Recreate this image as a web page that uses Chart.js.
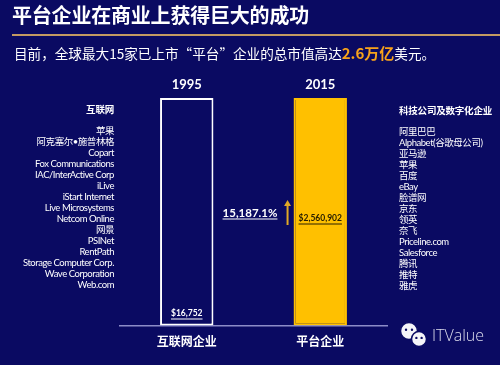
<!DOCTYPE html>
<html>
<head>
<meta charset="utf-8">
<script src="https://cdn.jsdelivr.net/npm/chart.js@4"></script>
<style>
  html, body { margin: 0; padding: 0; }
  body { width: 500px; height: 365px; background: #0a0a62; position: relative; overflow: hidden;
         font-family: "Lato", "Noto Sans CJK SC", sans-serif; color: #fff; }
  #chart { position: absolute; left: 0; top: 0; }
  .title { position: absolute; left: 12px; top: 3px; font: bold 20px/24px "Noto Sans CJK SC", sans-serif; letter-spacing: -0.2px; }
  .rule { position: absolute; left: 12px; top: 34px; width: 488px; height: 2px; background: #c39a62; }
  .sub { position: absolute; left: 14px; top: 44px; font: 13.6px/18px "Noto Sans CJK SC", sans-serif; white-space: nowrap; }
  .sub b { color: #f7a21b; font-size: 15px; }
  .list { position: absolute; font-size: 9.5px; line-height: 11px; white-space: nowrap; letter-spacing: -0.45px; }
  .list .head { font-weight: bold; margin-bottom: 10px; letter-spacing: -0.2px; }
  #left { right: 386px; top: 104px; text-align: right; }
  #right { left: 399px; top: 105px; text-align: left; }
  .brand { position: absolute; left: 432px; top: 325px; font: 300 16px/20px "Open Sans", sans-serif; color: #dcdcec; }
</style>
</head>
<body>
<canvas id="chart" width="500" height="365"></canvas>
<div class="title">平台企业在商业上获得巨大的成功</div>
<div class="rule"></div>
<div class="sub">目前，全球最大15家已上市“平台”企业的总市值高达<b>2.6万亿</b>美元。</div>
<div class="list" id="left"></div>
<div class="list" id="right"></div>
<div class="brand">ITValue</div>
<script>
// categories and values
const categories = ["互联网企业", "平台企业"];
const years = ["1995", "2015"];
const barHeights = [100, 100];          // both columns are drawn full height
const marketCap = [16752, 2560902];     // total value, shown as $ labels
const growthLabel = "15,187.1%";

const leftHead = "互联网";
const internetCompanies = ["苹果", "阿克塞尔•施普林格", "Copart", "Fox Communications",
    "IAC/InterActive Corp", "iLive", "iStart Internet", "Live Microsystems", "Netcom Online",
    "网景", "PSINet", "RentPath", "Storage Computer Corp.", "Wave Corporation", "Web.com"];
const rightHead = "科技公司及数字化企业";
const platformCompanies = ["阿里巴巴", "Alphabet(谷歌母公司)", "亚马逊", "苹果", "百度", "eBay",
    "脸谱网", "京东", "领英", "奈飞", "Priceline.com", "Salesforce", "腾讯", "推特", "雅虎"];

function fillList(id, head, items) {
    let el = document.getElementById(id);
    let h = document.createElement("div");
    h.className = "head";
    h.textContent = head;
    el.appendChild(h);
    items.forEach(name => {
        let d = document.createElement("div");
        d.textContent = name;
        el.appendChild(d);
    });
}
fillList("left", leftHead, internetCompanies);
fillList("right", rightHead, platformCompanies);

const BG = "#0a0a62";
const GOLD = "#ffc000";

function underlined(ctx, text, x, y, color, font) {
    ctx.font = font;
    ctx.fillStyle = color;
    ctx.textAlign = "center";
    ctx.textBaseline = "middle";
    ctx.fillText(text, x, y);
    let w = ctx.measureText(text).width;
    ctx.strokeStyle = color;
    ctx.lineWidth = 1;
    ctx.beginPath();
    ctx.moveTo(x - w / 2, y + 6);
    ctx.lineTo(x + w / 2, y + 6);
    ctx.stroke();
}

const labelsPlugin = {
    id: "labels",
    afterDatasetsDraw(chart) {
        let ctx = chart.ctx;
        let bars = chart.getDatasetMeta(0).data;
        ctx.save();
        bars.forEach((bar, i) => {
            ctx.font = "bold 13px Lato, sans-serif";
            ctx.fillStyle = "#fff";
            ctx.textAlign = "center";
            ctx.textBaseline = "middle";
            ctx.fillText(years[i], bar.x, bar.y - 13);
        });
        let fmt = v => "$" + v.toLocaleString("en-US");
        underlined(ctx, fmt(marketCap[0]), bars[0].x, 313, "#fff", "bold 8.5px Lato, sans-serif");
        underlined(ctx, fmt(marketCap[1]), bars[1].x, 218, "#2a2000", "bold 8.5px Lato, sans-serif");
        underlined(ctx, growthLabel, 250, 213, "#fff", "bold 11.5px Lato, sans-serif");

        // growth arrow
        let ax = bars[1].x - bars[1].width / 2 - 6;
        ctx.strokeStyle = "#e0a826";
        ctx.fillStyle = "#e0a826";
        ctx.lineWidth = 2;
        ctx.beginPath();
        ctx.moveTo(ax, 225);
        ctx.lineTo(ax, 205);
        ctx.stroke();
        ctx.beginPath();
        ctx.moveTo(ax - 3.5, 206);
        ctx.lineTo(ax, 200);
        ctx.lineTo(ax + 3.5, 206);
        ctx.closePath();
        ctx.fill();

        // wechat logo
        let bubble = (x, y, r) => {
            ctx.fillStyle = "#f4f4f8";
            ctx.strokeStyle = BG;
            ctx.lineWidth = 1.5;
            ctx.beginPath();
            ctx.arc(x, y, r, 0, Math.PI * 2);
            ctx.fill();
            ctx.stroke();
            ctx.fillStyle = BG;
            ctx.beginPath();
            ctx.arc(x - r * 0.35, y - r * 0.15, 1.2, 0, Math.PI * 2);
            ctx.arc(x + r * 0.35, y - r * 0.15, 1.2, 0, Math.PI * 2);
            ctx.fill();
        };
        bubble(409, 331, 8.5);
        bubble(419, 339, 7.5);
        ctx.restore();
    }
};

new Chart(document.getElementById("chart"), {
    type: "bar",
    data: {
        labels: categories,
        datasets: [{
            data: barHeights,
            backgroundColor: [BG, GOLD],
            borderColor: ["#ffffff", GOLD],
            borderWidth: 2,
            borderSkipped: false,
            categoryPercentage: 1,
            barPercentage: 0.4
        }]
    },
    options: {
        responsive: false,
        animation: false,
        layout: { padding: { left: 120, right: 113, top: 98, bottom: 7 } },
        plugins: { legend: { display: false }, tooltip: { enabled: false } },
        scales: {
            x: {
                grid: { display: false, drawTicks: false },
                border: { display: true, color: "#8c8cc8", width: 1.5 },
                ticks: { color: "#fff", padding: 9, font: { family: "Noto Sans CJK SC", size: 12, weight: "bold" } }
            },
            y: { display: false, min: 0, max: 100 }
        }
    },
    plugins: [labelsPlugin]
});
</script>
</body>
</html>
